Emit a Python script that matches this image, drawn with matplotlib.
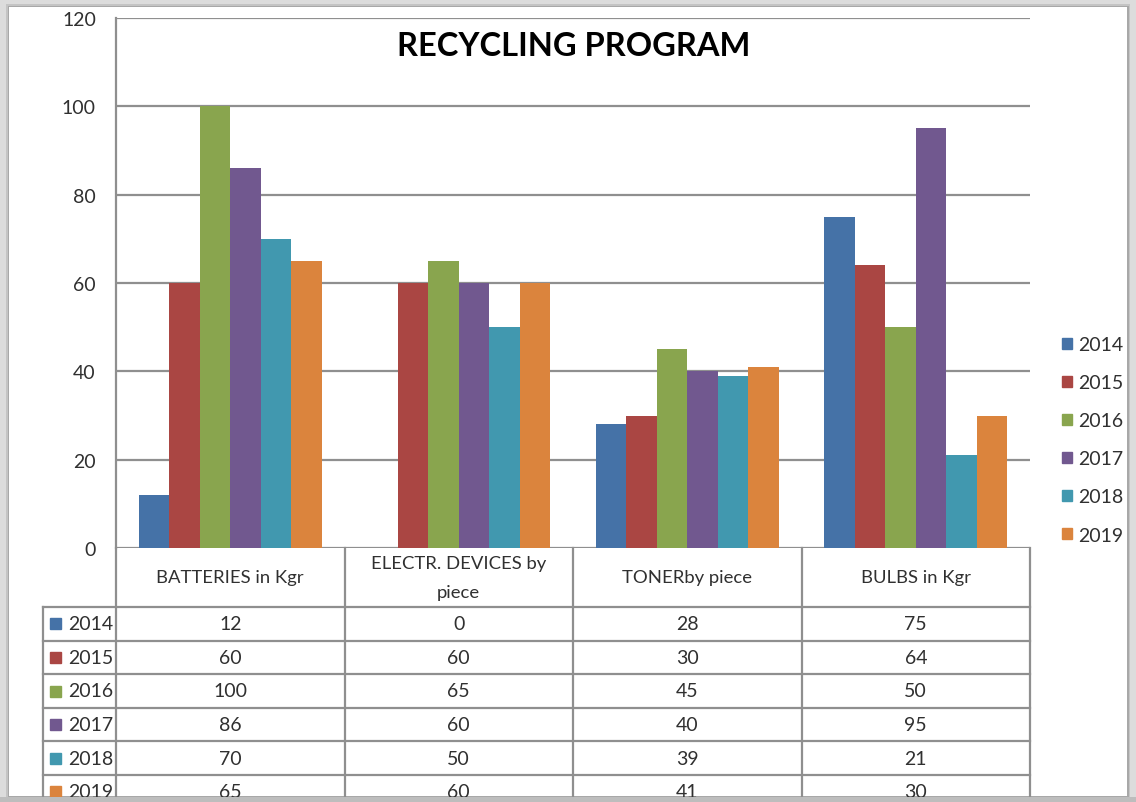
import numpy as np
import matplotlib
matplotlib.use('Agg')
import matplotlib.pyplot as plt
from matplotlib.patches import Rectangle, Patch
from matplotlib import transforms

plt.rcParams['font.family'] = ['Lato', 'DejaVu Sans']

categories = ['BATTERIES in Kgr', 'ELECTR. DEVICES by\npiece', 'TONERby piece', 'BULBS in Kgr']
years = ['2014', '2015', '2016', '2017', '2018', '2019']
v2014 = [12, 0, 28, 75]
v2015 = [60, 60, 30, 64]
v2016 = [100, 65, 45, 50]
v2017 = [86, 60, 40, 95]
v2018 = [70, 50, 39, 21]
v2019 = [65, 60, 41, 30]
series = [v2014, v2015, v2016, v2017, v2018, v2019]
colors = ['#4572A7', '#AA4643', '#89A54E', '#71588F', '#4198AF', '#DB843D']

W, H = 1136, 803
fig = plt.figure(figsize=(W / 100, H / 100), dpi=100)
fig.patch.set_facecolor('#dcdcdc')

# pixel coords, origin top-left
pxT = transforms.Affine2D().scale(1, -1).translate(0, H)

# page with a soft shadow
for off, col in [(3, '#c4c4c4'), (1.5, '#a8a8a8')]:
    fig.patches.append(Rectangle((9 - off, 8 - off), 1118 + 2 * off, 789 + 2 * off, transform=pxT,
                                 facecolor=col, edgecolor='none', zorder=-6))
fig.patches.append(Rectangle((9, 8), 1118, 789, transform=pxT, facecolor='white',
                             edgecolor='none', zorder=-5))

ax = fig.add_axes([116 / W, 1 - 549 / H, (1030 - 116) / W, (549 - 19) / H])
ax.set_facecolor('none')
x = np.arange(len(categories))
bw = 0.8 / len(series)
for i, vals in enumerate(series):
    ax.bar(x - 0.4 + bw * (i + 0.5), vals, bw, color=colors[i], label=years[i], zorder=3)

ax.set_xlim(-0.5, len(categories) - 0.5)
ax.set_ylim(0, 120)
ax.set_yticks(range(0, 121, 20))
ax.set_xticks([])
ax.yaxis.grid(True, color='#8f8f8f', lw=1.6)
ax.set_axisbelow(True)
for s in ['top', 'right', 'bottom']:
    ax.spines[s].set_visible(False)
ax.spines['left'].set_color('#8f8f8f')
ax.spines['left'].set_linewidth(1.6)
ax.tick_params(axis='y', length=0, pad=14.5, labelsize=14, labelcolor='#303030')

# data table under the chart
blend = transforms.blended_transform_factory(ax.transData, pxT)
head_top, head_bot, row_h = 549, 608, 33.6
tbl_bot = head_bot + row_h * (len(years) + 0.6)
lc, lw = '#8f8f8f', 1.6
for xe in np.arange(len(categories) + 1) - 0.5:
    ax.plot([xe, xe], [head_top, tbl_bot], transform=blend, color=lc, lw=lw, clip_on=False)
ax.plot([43, 43], [head_bot, tbl_bot], transform=pxT, color=lc, lw=lw, clip_on=False)
for k in range(len(years) + 1):
    yy = head_bot + k * row_h
    ax.plot([43, 1030], [yy, yy], transform=pxT, color=lc, lw=lw, clip_on=False)

for j, cat in enumerate(categories):
    ax.text(j, (head_top + head_bot) / 2, cat, transform=blend, ha='center', va='center',
            fontsize=13.3, color='#303030', clip_on=False, linespacing=2.0)

for i, vals in enumerate(series):
    yc = head_bot + (i + 0.5) * row_h
    ax.add_patch(Rectangle((50, yc - 5.5), 11, 11, transform=pxT, color=colors[i], clip_on=False))
    ax.text(68, yc, years[i], transform=pxT, ha='left', va='center', fontsize=14,
            color='#303030', clip_on=False)
    for j, v in enumerate(vals):
        ax.text(j, yc, str(v), transform=blend, ha='center', va='center', fontsize=14,
                color='#303030', clip_on=False)

handles = [Patch(color=c, label=y) for c, y in zip(colors, years)]
fig.legend(handles=handles, loc='center left', bbox_to_anchor=(1044 / W, 1 - 441 / H),
           frameon=False, fontsize=14, handlelength=0.55, handleheight=0.55,
           handletextpad=0.3, labelspacing=1.08, labelcolor='#303030')

fig.text(574 / W, 1 - 47 / H, 'RECYCLING PROGRAM', ha='center', va='center',
         fontsize=23.5, fontweight='bold', color='black')

# bottom shadow covering table overflow
fig.patches.append(Rectangle((0, 798), W, 5, transform=pxT, facecolor='#bdbdbd',
                             edgecolor='none', zorder=20))

fig.savefig('out.png', dpi=100, facecolor=fig.get_facecolor())
